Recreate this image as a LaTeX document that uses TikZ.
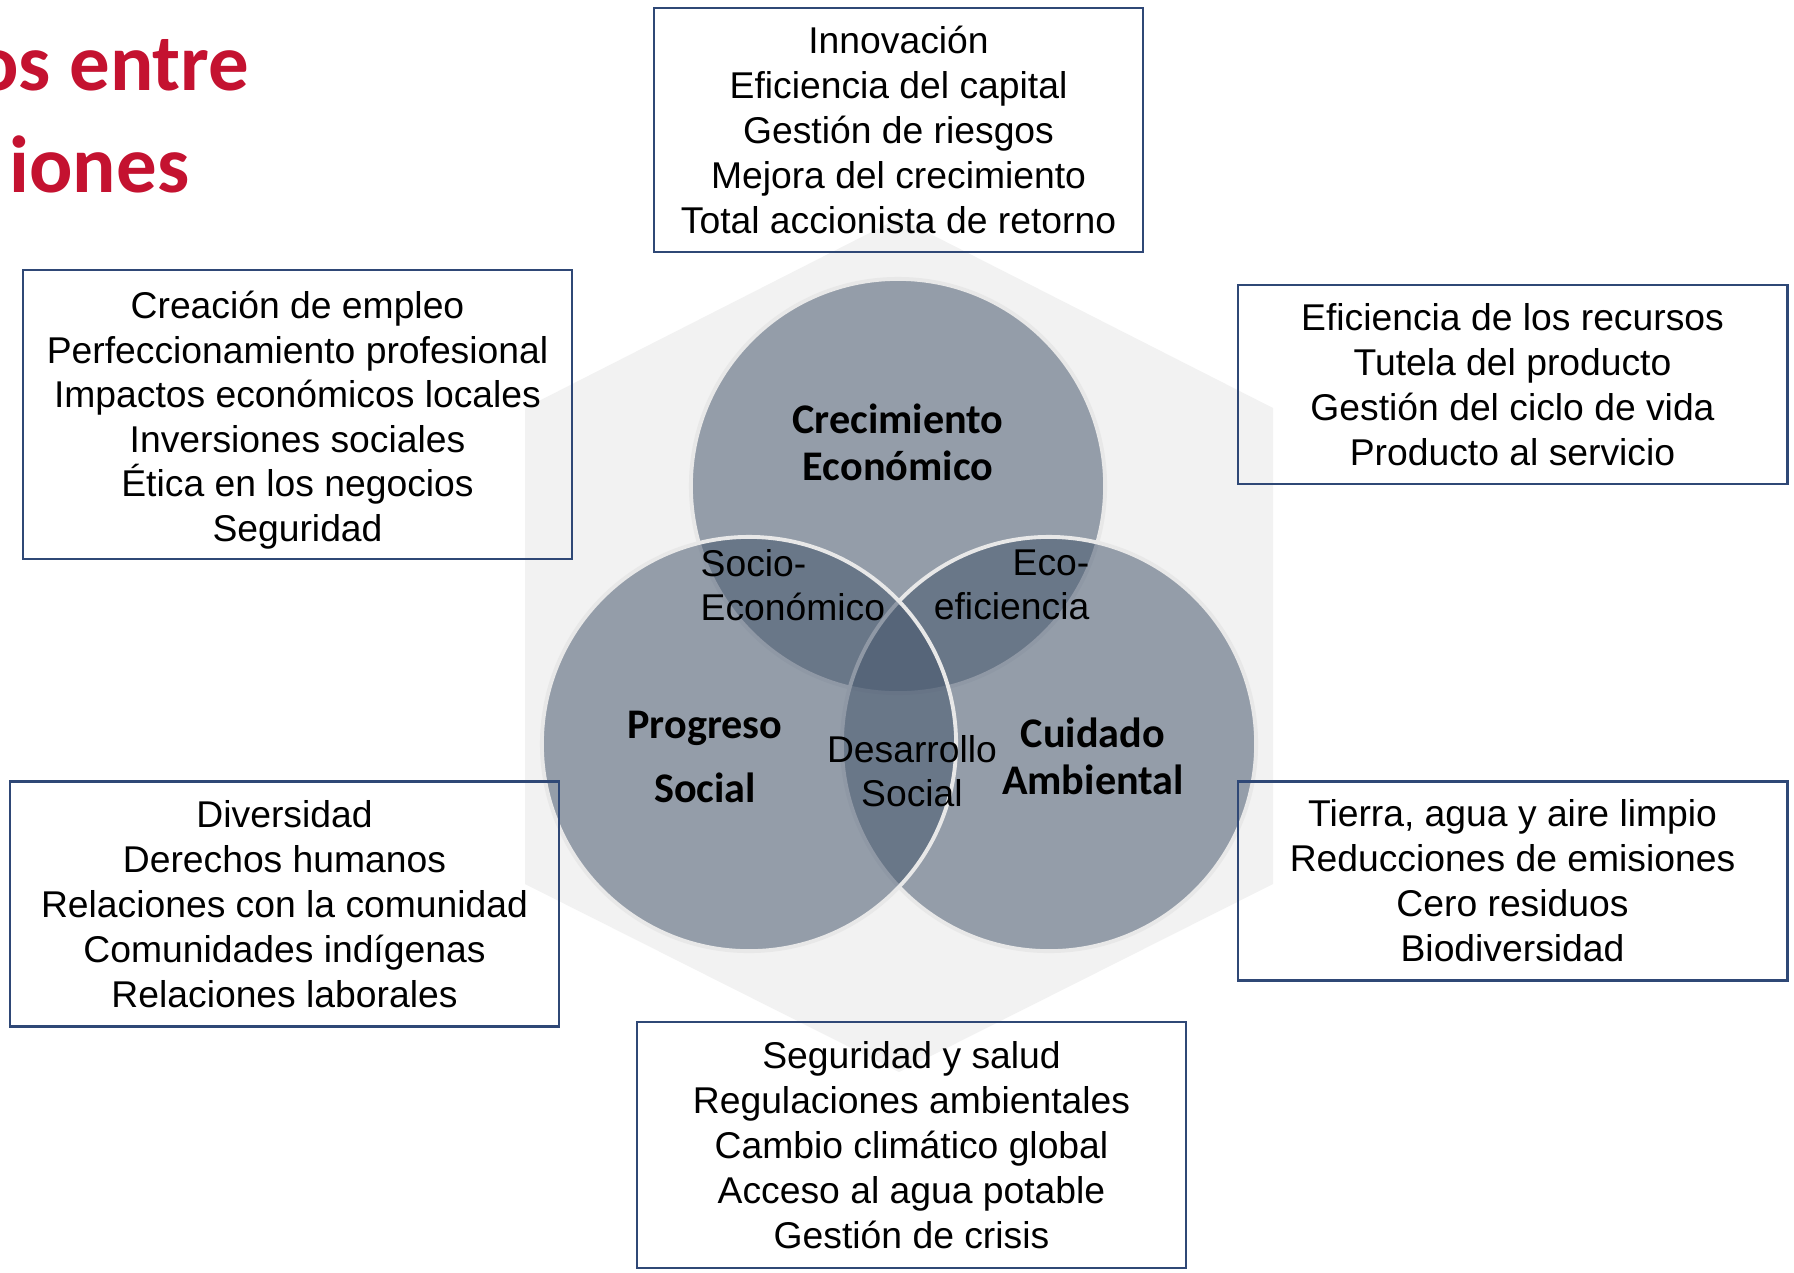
\documentclass[tikz,border=0pt]{standalone}
\usepackage{fontspec}
\setmainfont{Liberation Sans}
\newfontfamily\calibri{Carlito}

\definecolor{titlered}{RGB}{196,18,48}
\definecolor{boxline}{RGB}{47,72,118}
\definecolor{hexgrey}{RGB}{242,242,242}
\definecolor{ringfill}{RGB}{71,88,110}
\definecolor{ringrim}{RGB}{232,232,232}

\tikzset{
  listbox/.style={draw=boxline, line width=0.75pt, minimum width=5.49cm, align=center,
    inner sep=0pt, font=\fontsize{10.6}{12.8}\selectfont},
  ring/.style={circle, minimum size=4.14cm, inner sep=0pt, fill=ringfill,
    fill opacity=0.55, draw=ringrim, line width=1.1pt},
  bigtag/.style={font=\calibri\bfseries\fontsize{12}{13.4}\selectfont, align=center, inner sep=0pt},
  smalltag/.style={font=\fontsize{10.6}{12.7}\selectfont, inner sep=0pt}
}

\begin{document}
\begin{tikzpicture}[x=0.01cm, y=-0.01cm]
                \useasboundingbox (0,0) rectangle (1794,1272);
                % title, cut at the left edge
                \begin{scope}
                \clip (0,0) rectangle (1794,1272);
                \node[anchor=base east, inner sep=0pt, text=titlered, font=\calibri\bfseries\fontsize{23}{28}\selectfont] (title1) at (250,90) {os entre};
                \node[anchor=base east, inner sep=0pt, text=titlered, font=\calibri\bfseries\fontsize{23}{28}\selectfont] (title2) at (190,192) {iones};
                \end{scope}
                % background hexagon
                \fill[hexgrey] (899,218) -- (1273,408) -- (1273,884) -- (899,1072) -- (525,884) -- (525,408) -- cycle;
                % the three circles
                \node[ring] (econ) at (898,486) {};
                \node[ring] (amb) at (1049,744) {};
                \node[ring] (soc) at (749,744) {};
                \node[bigtag] (econtag) at (898,442) {Crecimiento\\Económico};
                \node[bigtag, font=\calibri\bfseries\fontsize{12}{18.2}\selectfont] (soctag) at (705,757) {Progreso\\Social};
                \node[bigtag] (ambtag) at (1093,756) {Cuidado\\Ambiental};
                \node[smalltag, anchor=west, align=left] (socioecon) at (700,585) {Socio-\\Económico};
                \node[smalltag, anchor=east, align=right] (ecoefic) at (1090,585) {Eco-\\eficiencia};
                \node[smalltag, align=center] (desarrollo) at (912,771) {Desarrollo\\Social};
                % lists
                \node[listbox, minimum width=4.89cm, minimum height=2.44cm] (econlist) at (898.5,130) {Innovación\\Eficiencia del capital\\Gestión de riesgos\\Mejora del crecimiento\\Total accionista de retorno};
                \node[listbox, minimum height=2.89cm, font=\fontsize{10.6}{12.65}\selectfont] (soceconlist) at (297.5,414.5) {\rule{0pt}{10.9pt}Creación de empleo\\Perfeccionamiento profesional\\Impactos económicos locales\\Inversiones sociales\\Ética en los negocios\\Seguridad};
                \node[listbox, minimum height=1.99cm] (ecoeflist) at (1512.5,384.5) {Eficiencia de los recursos\\Tutela del producto\\Gestión del ciclo de vida\\Producto al servicio};
                \node[listbox, minimum height=2.45cm] (soclist) at (284.5,904) {Diversidad\\Derechos humanos\\Relaciones con la comunidad\\Comunidades indígenas\\Relaciones laborales};
                \node[listbox, minimum height=1.99cm] (amblist) at (1512.5,881) {Tierra, agua y aire limpio\\Reducciones de emisiones\\Cero residuos\\Biodiversidad};
                \node[listbox, minimum height=2.46cm] (desalist) at (911.5,1145) {Seguridad y salud\\Regulaciones ambientales\\Cambio climático global\\Acceso al agua potable\\Gestión de crisis};
            \end{tikzpicture}
\end{document}
